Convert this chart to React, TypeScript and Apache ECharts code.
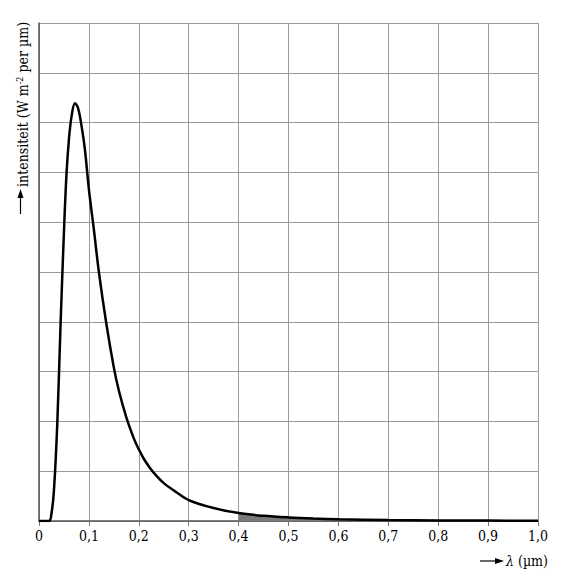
import React, { useEffect, useRef } from "react";
import * as echarts from "echarts";

// wavelength in µm
const wavelengths = [
  0, 0.02, 0.025, 0.03, 0.0367, 0.0433, 0.0507, 0.0553, 0.06, 0.0653, 0.072,
  0.078, 0.085, 0.092, 0.1, 0.11, 0.12, 0.135, 0.15, 0.16, 0.175, 0.19, 0.2,
  0.21, 0.222, 0.235, 0.25, 0.272, 0.3, 0.35, 0.4, 0.45, 0.5, 0.55, 0.6, 0.7,
  0.8, 0.9, 1.0,
];
// intensity in grid units (10 divisions, no scale shown)
const intensities = [
  0, 0, 0.15, 0.62, 1.97, 3.98, 5.99, 7.0, 7.67, 8.13, 8.39, 8.3, 7.95, 7.46,
  6.66, 5.85, 5.0, 3.96, 3.08, 2.62, 2.08, 1.66, 1.44, 1.25, 1.07, 0.91, 0.76,
  0.6, 0.42, 0.26, 0.16, 0.105, 0.072, 0.05, 0.036, 0.02, 0.012, 0.008, 0.005,
];
const shadeStart = 0.4;
const shadeEnd = 0.7;

const FONT = "DejaVu Serif Condensed, DejaVu Serif, serif";

export default function App() {
  const ref = useRef<HTMLDivElement>(null);
  useEffect(() => {
    document.body.style.margin = "0";
    const chart = echarts.init(ref.current!, null, { renderer: "svg" });
    const curve = wavelengths.map((x, i) => [x, intensities[i]]);
    const shaded = curve.filter(
      (p) => p[0] >= shadeStart - 1e-9 && p[0] <= shadeEnd + 1e-9
    );
    chart.setOption({
      animation: false,
      textStyle: { fontFamily: FONT },
      grid: { left: 39, right: 27, top: 23, bottom: 67 },
      xAxis: {
        type: "value",
        min: 0,
        max: 1,
        interval: 0.1,
        axisLine: { show: true, onZero: false, lineStyle: { color: "#555", width: 1.5 } },
        axisTick: { show: true, length: 5, lineStyle: { color: "#777", width: 1 } },
        splitLine: { show: true, lineStyle: { color: "#9a9a9a", width: 1 } },
        axisLabel: {
          color: "#000",
          fontFamily: FONT,
          fontSize: 14,
          margin: 8,
          formatter: (v: number) =>
            Math.abs(v) < 1e-9 ? "0" : v.toFixed(1).replace(".", ","),
        },
      },
      yAxis: {
        type: "value",
        min: 0,
        max: 10,
        interval: 1,
        axisLine: { show: true, lineStyle: { color: "#555", width: 1.5 } },
        axisTick: { show: false },
        axisLabel: { show: false },
        splitLine: { show: true, lineStyle: { color: "#9a9a9a", width: 1 } },
      },
      series: [
        {
          type: "line",
          data: shaded,
          symbol: "none",
          smooth: 0.35,
          lineStyle: { width: 0 },
          areaStyle: { color: "#7a7a7a", opacity: 1 },
          z: 1,
        },
        {
          type: "line",
          data: curve,
          symbol: "none",
          smooth: 0.35,
          lineStyle: { color: "#000", width: 2.5 },
          z: 2,
        },
      ],
      graphic: [
        {
          type: "line",
          shape: { x1: 20.5, y1: 214, x2: 20.5, y2: 196 },
          style: { stroke: "#000", lineWidth: 1.2 },
        },
        {
          type: "polygon",
          shape: { points: [[17.5, 198], [20.5, 189], [23.5, 198]] },
          style: { fill: "#000" },
        },
        {
          type: "text",
          x: 23,
          y: 187,
          rotation: Math.PI / 2,
          style: {
            text: "intensiteit (W m{sup|-2} per µm)",
            fontFamily: FONT,
            fontSize: 14,
            fill: "#000",
            align: "left",
            verticalAlign: "middle",
            rich: {
              sup: {
                fontFamily: FONT,
                fontSize: 9,
                fill: "#000",
                verticalAlign: "top",
                padding: [0, 0, 7, 0],
              },
            },
          },
        },
        {
          type: "line",
          shape: { x1: 480, y1: 561, x2: 498, y2: 561 },
          style: { stroke: "#000", lineWidth: 1.2 },
        },
        {
          type: "polygon",
          shape: { points: [[495, 558], [504, 561], [495, 564]] },
          style: { fill: "#000" },
        },
        {
          type: "text",
          x: 506,
          y: 561,
          style: {
            text: "{i|λ} (µm)",
            fontFamily: FONT,
            fontSize: 14,
            fill: "#000",
            align: "left",
            verticalAlign: "middle",
            rich: {
              i: { fontFamily: FONT, fontSize: 14, fontStyle: "italic", fill: "#000" },
            },
          },
        },
      ],
    });
    return () => chart.dispose();
  }, []);
  return (
    <div
      ref={ref}
      style={{ position: "fixed", left: 0, top: 0, width: 565, height: 588, background: "#fff" }}
    />
  );
}
